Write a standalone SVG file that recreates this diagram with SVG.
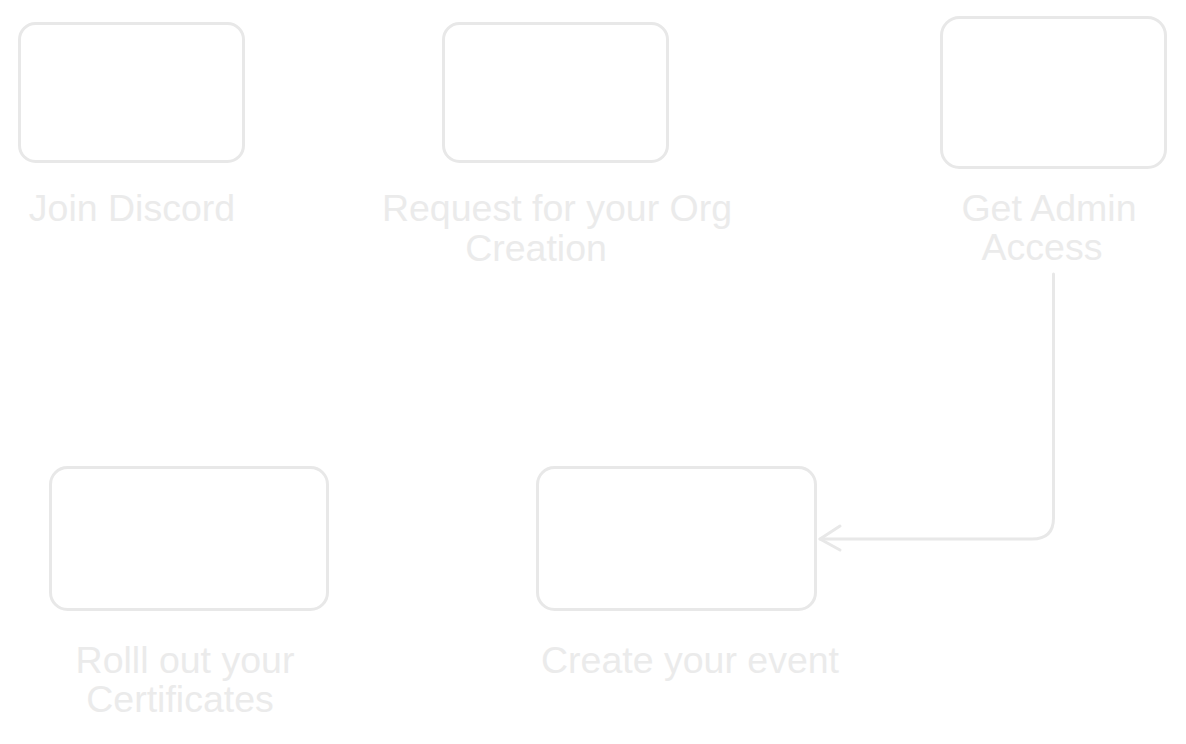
<svg xmlns="http://www.w3.org/2000/svg" width="1186" height="744" viewBox="0 0 1186 744">
<style>
.box{fill:none;stroke:#e8e8e8;stroke-width:3;stroke-linecap:round;stroke-linejoin:round}
.lbl{font-family:"Liberation Sans",Arial,sans-serif;font-size:37.5px;fill:#ebebeb;text-anchor:middle}
.edge{fill:none;stroke:#e8e8e8;stroke-width:3;stroke-linecap:round;stroke-linejoin:round}
</style>
<rect width="1186" height="744" fill="#ffffff"/>
<g id="join-discord">
<rect class="box" x="19.5" y="23.5" width="224" height="138" rx="16"/>
<text class="lbl" x="132" y="221">Join Discord</text>
</g>
<g id="request-org">
<rect class="box" x="443.5" y="23.5" width="224" height="138" rx="16"/>
<text class="lbl" x="557" y="221">Request for your Org</text>
<text class="lbl" x="536" y="261">Creation</text>
</g>
<g id="admin-access">
<rect class="box" x="941.5" y="17.5" width="224" height="150" rx="18"/>
<text class="lbl" x="1049" y="221">Get Admin</text>
<text class="lbl" x="1042" y="260">Access</text>
</g>
<g id="certificates">
<rect class="box" x="50.5" y="467.5" width="277" height="142" rx="17"/>
<text class="lbl" x="185" y="673">Rolll out your</text>
<text class="lbl" x="180" y="712">Certificates</text>
</g>
<g id="create-event">
<rect class="box" x="537.5" y="467.5" width="278" height="142" rx="17"/>
<text class="lbl" x="690" y="673">Create your event</text>
</g>
<g id="connectors">
<path class="edge" d="M1053.5 274 L1053.5 518 Q1053.5 539 1032 539 L820 539"/>
<path class="edge" d="M840 526 L820 539 L840 550"/>
</g>
</svg>
